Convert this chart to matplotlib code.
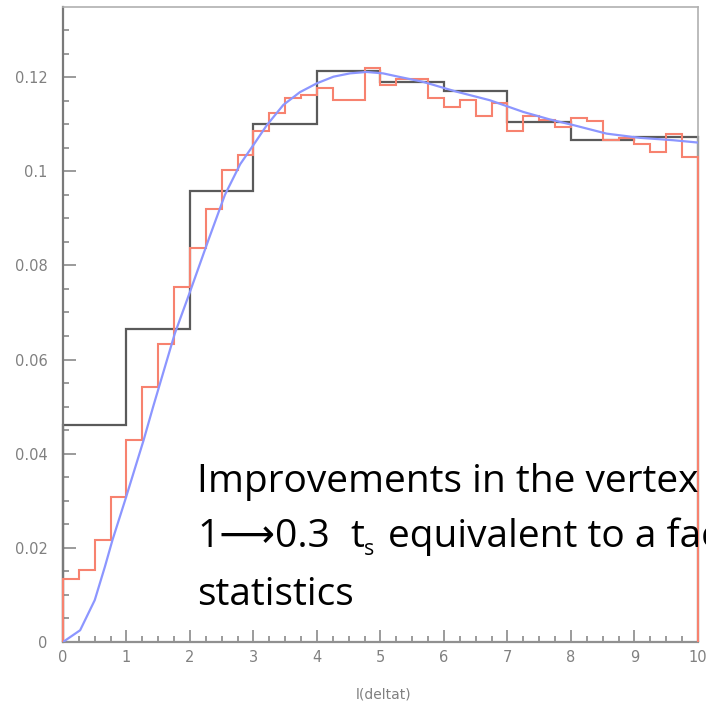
import numpy as np
import matplotlib
matplotlib.use("Agg")
import matplotlib.pyplot as plt
from matplotlib.ticker import MultipleLocator, FixedFormatter, FixedLocator

# coarse histogram (1 unit bins)
coarse_edges = np.arange(0, 11, 1.0)
coarse_vals = [0.0461, 0.0664, 0.0959, 0.1100, 0.1213,
               0.1190, 0.1171, 0.1105, 0.1066, 0.1073]

# fine histogram (0.25 unit bins)
fine_edges = np.arange(0, 10.001, 0.25)
fine_vals = [0.0134, 0.0153, 0.0217, 0.0307, 0.0429, 0.0542, 0.0634, 0.0755,
             0.0838, 0.0920, 0.1003, 0.1035, 0.1086, 0.1124, 0.1156, 0.1163,
             0.1177, 0.1151, 0.1151, 0.1219, 0.1183, 0.1195, 0.1195, 0.1156,
             0.1137, 0.1152, 0.1117, 0.1144, 0.1085, 0.1117, 0.1108, 0.1095,
             0.1114, 0.1107, 0.1066, 0.1070, 0.1059, 0.1040, 0.1079, 0.1030]

# fitted curve
fit_x = [0, 0.27, 0.50, 0.66, 0.78, 0.98, 1.27, 1.42, 1.76, 2.0, 2.29, 2.55,
         2.79, 3.02, 3.21, 3.47, 3.73, 4.0, 4.26, 4.52, 4.78, 5.04, 5.28, 5.67,
         6.2, 6.72, 7.25, 7.67, 8.04, 8.56, 9.09, 9.61, 10.0]
fit_y = [0, 0.0025, 0.0089, 0.0160, 0.0217, 0.0302, 0.0429, 0.0500, 0.0655,
         0.0744, 0.0854, 0.0950, 0.1015, 0.1060, 0.1098, 0.1141, 0.1168,
         0.1187, 0.1201, 0.1208, 0.1211, 0.1208, 0.1201, 0.1190, 0.1169,
         0.1151, 0.1126, 0.1110, 0.1098, 0.1080, 0.1071, 0.1066, 0.1061]

y_ticks = [0, 0.02, 0.04, 0.06, 0.08, 0.1, 0.12]
y_tick_labels = ["0", "0.02", "0.04", "0.06", "0.08", "0.1", "0.12"]
x_ticks = list(range(0, 11))
x_tick_labels = [str(v) for v in x_ticks]
x_label = "l(deltat)"

note_lines = ["Improvements in the vertex",
              "equivalent to a factor",
              "statistics"]

W, H = 706, 705
fig = plt.figure(figsize=(W / 100, H / 100), dpi=100)
ax = fig.add_axes([63 / W, 1 - 642 / H, 635 / W, 635 / H])

ax.stairs(coarse_vals, coarse_edges, color="#5a5a5a", lw=1.6, clip_on=False, zorder=2)
ax.stairs(fine_vals, fine_edges, color="#f7826f", lw=1.5, clip_on=False, zorder=3)
ax.plot(fit_x, fit_y, color="#8c96ff", lw=1.6, zorder=4)

ax.set_xlim(0, 10)
ax.set_ylim(0, 0.1349)

tick_col = "#8a8a8a"
ax.xaxis.set_major_locator(FixedLocator(x_ticks))
ax.xaxis.set_major_formatter(FixedFormatter(x_tick_labels))
ax.xaxis.set_minor_locator(MultipleLocator(0.25))
ax.yaxis.set_major_locator(FixedLocator(y_ticks))
ax.yaxis.set_major_formatter(FixedFormatter(y_tick_labels))
ax.yaxis.set_minor_locator(MultipleLocator(0.005))
ax.tick_params(which="both", direction="in", color=tick_col, width=1.2)
ax.tick_params(which="major", length=9, labelsize=10.5, labelcolor="#808080")
ax.tick_params(which="minor", length=4.5)
ax.tick_params(axis="y", which="major", pad=11)
ax.tick_params(axis="x", which="major", pad=6)

for side in ["top", "right"]:
    ax.spines[side].set_color("#b0b0b0")
    ax.spines[side].set_linewidth(1.2)
ax.spines["left"].set_color("#7a7a7a")
ax.spines["left"].set_linewidth(1.6)
ax.spines["bottom"].set_color("#909090")
ax.spines["bottom"].set_linewidth(1.6)

fig.text(384 / W, 1 - 694 / H, x_label, ha="center", va="center",
         fontsize=10, color="#808080")

# slide annotation, running off the right edge like the original
fam = ["Open Sans", "DejaVu Sans"]
fs = 28
x0 = 197 / W
fig.text(x0, 1 - 491.7 / H, note_lines[0], fontsize=fs, family=fam,
         va="baseline", color="black")
fig.text(x0, 1 - 605 / H, note_lines[2], fontsize=fs, family=fam,
         va="baseline", color="black")

# second line: "1→0.3" + "t" + subscript s + rest
renderer = fig.canvas.get_renderer()
y2 = 1 - 546.7 / H
fig.text(x0, y2, "1\u27f60.3", fontsize=fs, family=fam,
         va="baseline", color="black")
t1 = fig.text(350 / W, y2, "t", fontsize=fs, family=fam,
              va="baseline", color="black")
bb = t1.get_window_extent(renderer)
fig.text(bb.x1 / W, y2 - 8 / H, "s", fontsize=fs * 0.55, family=fam,
         va="baseline", color="black")
fig.text(388 / W, y2, note_lines[1], fontsize=fs, family=fam,
         va="baseline", color="black")

fig.savefig("out.png", dpi=100)
